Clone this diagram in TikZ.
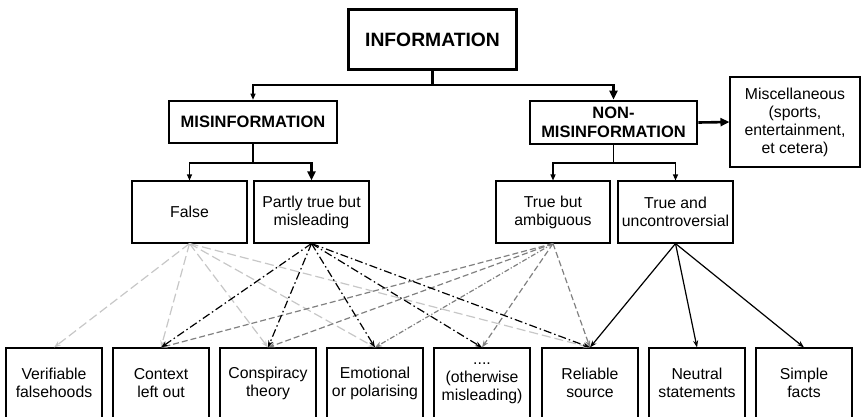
\documentclass[tikz,border=0pt]{standalone}
\usepackage{fontspec}
\setmainfont{Liberation Sans}
\usetikzlibrary{arrows.meta}
\begin{document}
\begin{tikzpicture}[x=1pt,y=-1pt,
  box/.style={draw, line width=1.1pt, inner sep=0pt, align=center, font=\fontsize{15.8}{18}\selectfont},
  bigbox/.style={draw, line width=2.6pt, inner sep=0pt, align=center, font=\bfseries\fontsize{16.5}{19}\selectfont},
  lowbox/.style={box, minimum width=96pt, minimum height=70pt},
  midbox/.style={box, minimum width=115pt, minimum height=62pt},
  thinarr/.style={line width=1.1pt, -{Triangle[length=6pt,width=5pt]}},
  thickarr/.style={line width=2.6pt, -{Triangle[length=9pt,width=8pt]}},
  thickline/.style={line width=2.6pt},
  lgdash/.style={draw=black!22, line width=1.2pt, dash pattern=on 9pt off 4pt, -{Stealth[length=7pt,width=5pt]}},
  bdd/.style={draw=black, line width=1.2pt, dash pattern=on 8pt off 3pt on 1.5pt off 3pt, -{Stealth[length=7pt,width=5pt]}},
  gdash/.style={draw=black!50, line width=1.2pt, dash pattern=on 6pt off 3pt, -{Stealth[length=7pt,width=5pt]}},
  gdd/.style={draw=black!50, line width=1.2pt, dash pattern=on 5pt off 2pt on 1.2pt off 2pt, -{Stealth[length=7pt,width=5pt]}},
  solidarr/.style={draw=black, line width=1.2pt, -{Stealth[length=7pt,width=5pt]}}
]
\useasboundingbox (0,0) rectangle (861,416);

\node[bigbox, line width=3.5pt, minimum width=168pt, minimum height=60pt, font=\bfseries\fontsize{19.3}{22}\selectfont] (info) at (432.5,39.5) {INFORMATION};
\node[bigbox, minimum width=168pt, minimum height=42pt] (mis) at (253,122) {MISINFORMATION};
\node[bigbox, minimum width=167pt, minimum height=43pt] (nonmis) at (613.5,122.5) {NON-\\MISINFORMATION};
\node[box, minimum width=130pt, minimum height=90pt] (misc) at (795,122) {Miscellaneous\\(sports,\\entertainment,\\et cetera)};

\node[midbox] (false) at (189.5,212) {False};
\node[midbox] (partly) at (311.5,212) {Partly true but\\misleading};
\node[midbox, minimum width=114pt] (tba) at (553,212) {True but\\ambiguous};
\node[midbox] (tu) at (675.5,212) {True and\\uncontroversial};

\node[lowbox] (vf) at (54,383) {Verifiable\\falsehoods};
\node[lowbox] (clo) at (161,383) {Context\\left out};
\node[lowbox] (ct) at (268,383) {Conspiracy\\theory};
\node[lowbox] (eop) at (375,383) {Emotional\\or polarising};
\node[lowbox] (om) at (482,383) {....\\(otherwise\\misleading)};
\node[lowbox] (rs) at (590,383) {Reliable\\source};
\node[lowbox] (ns) at (697,383) {Neutral\\statements};
\node[lowbox] (sf) at (804,383) {Simple\\facts};

% top connectors
\coordinate (j0) at (432.5,85);
\draw[thinarr] (j0) -| (mis.north);
\draw[thickline] (info.south) -- (j0);
\draw[thickarr] (j0) -| (nonmis.north);

\coordinate (j1) at (253,163);
\draw[thinarr] (j1) -| (false.north);
\draw[thickline] (mis.south) -- (j1);
\draw[thickarr] (j1) -| (partly.north);

\coordinate (j2) at (613.5,163);
\draw[line width=1.1pt] (nonmis.south) -- (j2);
\draw[thinarr] (j2) -| (tba.north);
\draw[thinarr] (j2) -| (tu.north);

\draw[thickarr] (nonmis.east) -- (misc.west);

% lower connectors
\foreach \t in {vf,clo,ct,eop,rs} \draw[lgdash] (false.south) -- (\t.north);
\foreach \t in {clo,ct,om,rs} \draw[gdash] (tba.south) -- (\t.north);
\draw[gdd] (tba.south) -- (eop.north);
\foreach \t in {clo,ct,eop,om,rs} \draw[bdd] (partly.south) -- (\t.north);
\foreach \t in {rs,ns,sf} \draw[solidarr] (tu.south) -- (\t.north);
\end{tikzpicture}
\end{document}
